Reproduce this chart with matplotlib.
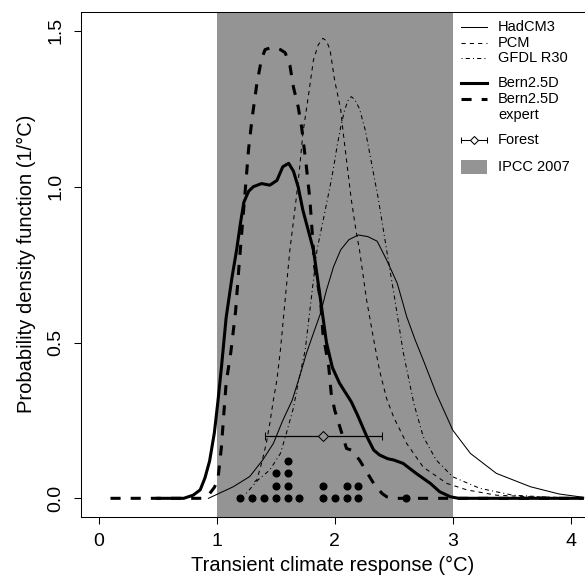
import numpy as np
import matplotlib
matplotlib.use('Agg')
import matplotlib.pyplot as plt
from matplotlib.patches import Rectangle

plt.rcParams['font.family'] = ['Liberation Sans', 'DejaVu Sans']

# Curves (x in degC, y in 1/degC)
hadcm3_x = [0.93, 1.14, 1.28, 1.39, 1.48, 1.56, 1.64, 1.71, 1.76, 1.82, 1.88, 1.93, 1.99, 2.05,
            2.12, 2.20, 2.28, 2.36, 2.44, 2.53, 2.61, 2.68, 2.75, 2.86, 3.00, 3.15, 3.37, 3.66,
            3.90, 4.11]
hadcm3_y = [0.0, 0.037, 0.07, 0.123, 0.176, 0.25, 0.315, 0.40, 0.465, 0.53, 0.594, 0.668, 0.743,
            0.797, 0.83, 0.845, 0.84, 0.825, 0.765, 0.69, 0.583, 0.51, 0.444, 0.337, 0.219, 0.144,
            0.080, 0.037, 0.014, 0.003]

pcm_x = [1.32, 1.34, 1.38, 1.42, 1.45, 1.48, 1.51, 1.54, 1.58, 1.62, 1.67, 1.70, 1.73, 1.78,
         1.82, 1.86, 1.90, 1.93, 1.96, 2.00, 2.05, 2.07, 2.10, 2.14, 2.18, 2.21, 2.27, 2.33, 2.38,
         2.44, 2.50, 2.61, 2.75, 2.95, 3.12, 3.37, 3.66, 4.10]
pcm_y = [0.053, 0.059, 0.112, 0.176, 0.24, 0.315, 0.38, 0.476, 0.637, 0.797, 0.95, 1.05, 1.17,
         1.30, 1.407, 1.455, 1.476, 1.468, 1.44, 1.34, 1.25, 1.18, 1.085, 0.96, 0.86, 0.797, 0.637,
         0.51, 0.41, 0.32, 0.26, 0.176, 0.10, 0.048, 0.027, 0.01, 0.005, 0.0]

gfdl_x = [1.25, 1.35, 1.45, 1.54, 1.59, 1.65, 1.69, 1.75, 1.80, 1.85, 1.92, 1.96, 1.99, 2.02,
          2.05, 2.08, 2.11, 2.14, 2.17, 2.21, 2.26, 2.30, 2.33, 2.37, 2.44, 2.51, 2.58, 2.67, 2.75,
          2.86, 3.00, 3.23, 3.51, 3.80, 4.10]
gfdl_y = [0.016, 0.059, 0.091, 0.144, 0.208, 0.29, 0.37, 0.476, 0.637, 0.797, 0.925, 1.0, 1.06,
          1.13, 1.19, 1.24, 1.275, 1.289, 1.28, 1.25, 1.18, 1.10, 1.04, 0.96, 0.797, 0.637, 0.47,
          0.305, 0.198, 0.123, 0.069, 0.032, 0.01, 0.004, 0.0]

bern_x = [0.50, 0.72, 0.80, 0.86, 0.90, 0.94, 0.98, 1.01, 1.04, 1.08, 1.13, 1.17, 1.20, 1.23,
          1.27, 1.31, 1.38, 1.45, 1.51, 1.56, 1.61, 1.65, 1.69, 1.73, 1.79, 1.82, 1.88, 1.93, 1.98,
          2.04, 2.14, 2.19, 2.27, 2.33, 2.38, 2.45, 2.50, 2.58, 2.69, 2.81, 2.89, 2.98, 3.05, 4.10]
bern_y = [0.0, 0.0, 0.01, 0.027, 0.065, 0.12, 0.21, 0.31, 0.42, 0.58, 0.71, 0.80, 0.88, 0.95,
          0.985, 1.0, 1.01, 1.005, 1.02, 1.064, 1.075, 1.05, 1.0, 0.925, 0.84, 0.797, 0.637, 0.50,
          0.42, 0.37, 0.31, 0.27, 0.20, 0.155, 0.139, 0.127, 0.123, 0.112, 0.08, 0.048, 0.021,
          0.005, 0.0, 0.0]

expert_x = [0.10, 0.88, 0.94, 0.98, 1.01, 1.04, 1.06, 1.08, 1.12, 1.16, 1.19, 1.24, 1.27, 1.30,
            1.34, 1.38, 1.41, 1.45, 1.50, 1.54, 1.58, 1.62, 1.65, 1.69, 1.72, 1.76, 1.79, 1.83,
            1.88, 1.90, 1.95, 1.97, 2.00, 2.06, 2.10, 2.14, 2.21, 2.27, 2.33, 2.40, 2.44, 2.50, 4.10]
expert_y = [0.0, 0.0, 0.015, 0.035, 0.06, 0.165, 0.27, 0.37, 0.47, 0.60, 0.75, 0.98, 1.12, 1.22,
            1.33, 1.41, 1.44, 1.445, 1.445, 1.44, 1.43, 1.39, 1.32, 1.257, 1.19, 1.064, 0.957,
            0.743, 0.637, 0.53, 0.42, 0.337, 0.283, 0.209, 0.16, 0.155, 0.123, 0.085, 0.048, 0.016,
            0.005, 0.0, 0.0]

# Forest et al. estimate: best guess and range
forest_best = 1.90
forest_lo = 1.41
forest_hi = 2.40
forest_level = 0.2

# individual model TCR values (stacked dots)
model_tcr = [1.2, 1.3, 1.4, 1.5, 1.5, 1.5, 1.6, 1.6, 1.6, 1.6, 1.7,
             1.9, 1.9, 2.0, 2.1, 2.1, 2.2, 2.2, 2.6]

ipcc_range = [1.0, 3.0]

gray = '#949494'

fig = plt.figure(figsize=(5.85, 5.83), dpi=100)
ax = fig.add_axes([81 / 585, 1 - 516.7 / 583, 504 / 585, 505 / 583])

ax.axvspan(ipcc_range[0], ipcc_range[1], color=gray, lw=0, zorder=0)

ax.plot(hadcm3_x, hadcm3_y, color='black', lw=0.75)
ax.plot(pcm_x, pcm_y, color='black', lw=0.75, linestyle=(0, (4, 4)))
ax.plot(gfdl_x, gfdl_y, color='black', lw=0.75, linestyle=(0, (1, 3, 4, 3)))
ax.plot(bern_x, bern_y, color='black', lw=2.2)
ax.plot(expert_x, expert_y, color='black', lw=2.2, linestyle=(0, (3.3, 3.3)))

ax.errorbar([forest_best], [forest_level],
            xerr=[[forest_best - forest_lo], [forest_hi - forest_best]],
            fmt='D', ms=5, mfc=gray, mec='black', mew=0.75, color='black',
            elinewidth=0.9, capsize=3, capthick=0.9)

# stack dots with equal values
dot_x, dot_y = [], []
counts = {}
for v in model_tcr:
    k = counts.get(v, 0)
    counts[v] = k + 1
    dot_x.append(v)
    dot_y.append(0.04 * k)
ax.plot(dot_x, dot_y, 'o', color='black', ms=4.8, zorder=5)

ax.set_xlim(-0.15, 4.121)
ax.set_ylim(-0.059, 1.5616)
ax.set_xticks([0, 1, 2, 3, 4])
ax.set_yticks([0.0, 0.5, 1.0, 1.5])
ax.set_yticklabels(['0.0', '0.5', '1.0', '1.5'], rotation=90, va='center')
ax.tick_params(direction='out', length=5, width=0.75, labelsize=14)
ax.tick_params(axis='x', pad=7)
ax.tick_params(axis='y', pad=7)
ax.spines['right'].set_visible(False)
for s in ['left', 'top', 'bottom']:
    ax.spines[s].set_linewidth(0.75)

ax.set_xlabel('Transient climate response (°C)', fontsize=14.5, labelpad=4)
ax.set_ylabel('Probability density function (1/°C)', fontsize=14.5, labelpad=8)

# legend (drawn by hand, R style)
hx0, hx1, tx = 3.068, 3.29, 3.384
fs = 10.5
ax.plot([hx0, hx1], [1.514, 1.514], color='black', lw=0.75)
ax.text(tx, 1.514, 'HadCM3', fontsize=fs, va='center')
ax.plot([hx0, hx1], [1.462, 1.462], color='black', lw=0.75, linestyle=(0, (4, 4)))
ax.text(tx, 1.462, 'PCM', fontsize=fs, va='center')
ax.plot([hx0, hx1], [1.412, 1.412], color='black', lw=0.75, linestyle=(0, (1, 3, 4, 3)))
ax.text(tx, 1.412, 'GFDL R30', fontsize=fs, va='center')
ax.plot([hx0, hx1], [1.332, 1.332], color='black', lw=2.2)
ax.text(tx, 1.332, 'Bern2.5D', fontsize=fs, va='center')
ax.plot([hx0, hx1], [1.281, 1.281], color='black', lw=2.2, linestyle=(0, (3.3, 3.3)))
ax.text(tx, 1.281, 'Bern2.5D', fontsize=fs, va='center')
ax.text(tx, 1.230, 'expert', fontsize=fs, va='center')
ax.errorbar([(hx0 + hx1) / 2], [1.150], xerr=[[(hx1 - hx0) / 2]], fmt='D', ms=4.5,
            mfc='white', mec='black', mew=0.75, color='black', elinewidth=0.75,
            capsize=2.5, capthick=0.75)
ax.text(tx, 1.150, 'Forest', fontsize=fs, va='center')
ax.add_patch(Rectangle((hx0, 1.041), hx1 - hx0, 0.045, color=gray, lw=0))
ax.text(tx, 1.064, 'IPCC 2007', fontsize=fs, va='center')

fig.savefig('out.png', dpi=100)
